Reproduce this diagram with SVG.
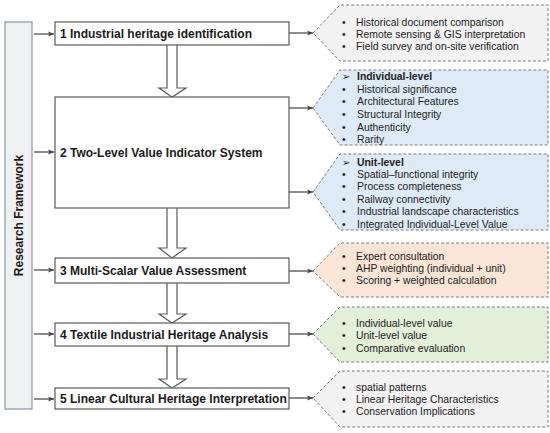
<svg xmlns="http://www.w3.org/2000/svg" width="550" height="433" viewBox="0 0 550 433">
<defs>
<marker id="ah" markerWidth="8" markerHeight="8" refX="7" refY="4" orient="auto" markerUnits="userSpaceOnUse">
<path d="M1,1.5 L7,4 L1,6.5 L2.5,4 Z" fill="#404040"/>
</marker>
</defs>
<style>
.box{fill:#fff;stroke:#5a5a5a;stroke-width:1.2}
.ttl{font-family:"Liberation Sans",Arial,sans-serif;font-weight:bold;font-size:12px;fill:#1a1a1a}
.co{stroke:#7a7a7a;stroke-width:1;stroke-dasharray:3,2}
.t{font-family:"Liberation Sans",Arial,sans-serif;font-size:10.4px;fill:#222}
.b{font-family:"Liberation Sans",Arial,sans-serif;font-size:10.4px;fill:#222}
.hb{font-weight:bold}
.con{stroke:#404040;stroke-width:1.2;fill:none}
.big{fill:#fff;stroke:#5a5a5a;stroke-width:1.2}
</style>
<rect width="550" height="433" fill="#fff"/>
<g id="framework">
<rect x="5" y="22" width="27" height="387" fill="#eef0f2" stroke="#8a96a3" stroke-width="1.2"/>
<text class="ttl" font-size="12.5" transform="translate(23,215.5) rotate(-90)" text-anchor="middle">Research Framework</text>
</g>
<g id="connectors">
<line class="con" x1="34" y1="34" x2="54" y2="34" marker-end="url(#ah)"/>
<line class="con" x1="34" y1="152" x2="54" y2="152" marker-end="url(#ah)"/>
<line class="con" x1="34" y1="270" x2="54" y2="270" marker-end="url(#ah)"/>
<line class="con" x1="34" y1="334" x2="54" y2="334" marker-end="url(#ah)"/>
<line class="con" x1="34" y1="399" x2="54" y2="399" marker-end="url(#ah)"/>
<line class="con" x1="289" y1="33" x2="313" y2="33" marker-end="url(#ah)"/>
<line class="con" x1="289" y1="108" x2="313" y2="108" marker-end="url(#ah)"/>
<line class="con" x1="289" y1="192" x2="313" y2="192" marker-end="url(#ah)"/>
<line class="con" x1="289" y1="271" x2="313" y2="271" marker-end="url(#ah)"/>
<line class="con" x1="289" y1="334" x2="313" y2="334" marker-end="url(#ah)"/>
<line class="con" x1="289" y1="398" x2="313" y2="398" marker-end="url(#ah)"/>
<path class="big" d="M167,45 V88 H159 L172,97 L186,88 H177 V45"/>
<path class="big" d="M167,208 V248 H159 L172,258 L186,248 H177 V208"/>
<path class="big" d="M167,283 V314 H159 L172,323 L186,314 H177 V283"/>
<path class="big" d="M167,346 V379 H159 L172,388 L186,379 H177 V346"/>
</g>
<g id="step1">
<rect class="box" x="55" y="22" width="234" height="23"/>
<text class="ttl" x="60" y="38">1 Industrial heritage identification</text>
</g>
<g id="step2">
<rect class="box" x="55" y="97" width="234" height="111"/>
<text class="ttl" x="60" y="157">2 Two-Level Value Indicator System</text>
</g>
<g id="step3">
<rect class="box" x="55" y="258" width="234" height="25"/>
<text class="ttl" x="60" y="275">3 Multi-Scalar Value Assessment</text>
</g>
<g id="step4">
<rect class="box" x="55" y="323" width="234" height="23"/>
<text class="ttl" x="60" y="338.5">4 Textile Industrial Heritage Analysis</text>
</g>
<g id="step5">
<rect class="box" x="55" y="388" width="234" height="21"/>
<text class="ttl" x="60" y="403">5 Linear Cultural Heritage Interpretation</text>
</g>
<g id="callout1">
<path class="co" fill="#f2f2f2" d="M313,33 L340,5 H548 V61 H340 Z"/>
<text class="b" x="342" y="26">•</text><text class="t" x="356" y="26">Historical document comparison</text>
<text class="b" x="342" y="38">•</text><text class="t" x="356" y="38">Remote sensing &amp; GIS interpretation</text>
<text class="b" x="342" y="50">•</text><text class="t" x="356" y="50">Field survey and on-site verification</text>
</g>
<g id="callout2">
<path class="co" fill="#deebf7" d="M313,108 L340,70 H548 V145 H340 Z"/>
<text class="b" x="342" y="80" font-family="DejaVu Sans" font-size="8">➢</text><text class="t hb" x="357" y="80">Individual-level</text>
<text class="b" x="342" y="93">•</text><text class="t" x="357" y="93">Historical significance</text>
<text class="b" x="342" y="105">•</text><text class="t" x="357" y="105">Architectural Features</text>
<text class="b" x="342" y="118">•</text><text class="t" x="357" y="118">Structural Integrity</text>
<text class="b" x="342" y="131">•</text><text class="t" x="357" y="131">Authenticity</text>
<text class="b" x="342" y="143">•</text><text class="t" x="357" y="143">Rarity</text>
</g>
<g id="callout3">
<path class="co" fill="#deebf7" d="M313,192 L340,154 H548 V230 H340 Z"/>
<text class="b" x="342" y="166" font-family="DejaVu Sans" font-size="8">➢</text><text class="t hb" x="357" y="166">Unit-level</text>
<text class="b" x="342" y="178">•</text><text class="t" x="357" y="178">Spatial–functional integrity</text>
<text class="b" x="342" y="190">•</text><text class="t" x="357" y="190">Process completeness</text>
<text class="b" x="342" y="203">•</text><text class="t" x="357" y="203">Railway connectivity</text>
<text class="b" x="342" y="215">•</text><text class="t" x="357" y="215">Industrial landscape characteristics</text>
<text class="b" x="342" y="228">•</text><text class="t" x="357" y="228">Integrated Individual-Level Value</text>
</g>
<g id="callout4">
<path class="co" fill="#fbe5d6" d="M313,271 L340,243 H548 V297 H340 Z"/>
<text class="b" x="342" y="260">•</text><text class="t" x="356" y="260">Expert consultation</text>
<text class="b" x="342" y="272">•</text><text class="t" x="356" y="272">AHP weighting (individual + unit)</text>
<text class="b" x="342" y="284">•</text><text class="t" x="356" y="284">Scoring + weighted calculation</text>
</g>
<g id="callout5">
<path class="co" fill="#e2f0d9" d="M313,334 L340,307 H548 V362 H340 Z"/>
<text class="b" x="342" y="327">•</text><text class="t" x="356" y="327">Individual-level value</text>
<text class="b" x="342" y="339">•</text><text class="t" x="356" y="339">Unit-level value</text>
<text class="b" x="342" y="352">•</text><text class="t" x="356" y="352">Comparative evaluation</text>
</g>
<g id="callout6">
<path class="co" fill="#f2f2f2" d="M313,398 L340,371 H548 V427 H340 Z"/>
<text class="b" x="342" y="391">•</text><text class="t" x="356" y="391">spatial patterns</text>
<text class="b" x="342" y="403">•</text><text class="t" x="356" y="403">Linear Heritage Characteristics</text>
<text class="b" x="342" y="415">•</text><text class="t" x="356" y="415">Conservation Implications</text>
</g>
</svg>
